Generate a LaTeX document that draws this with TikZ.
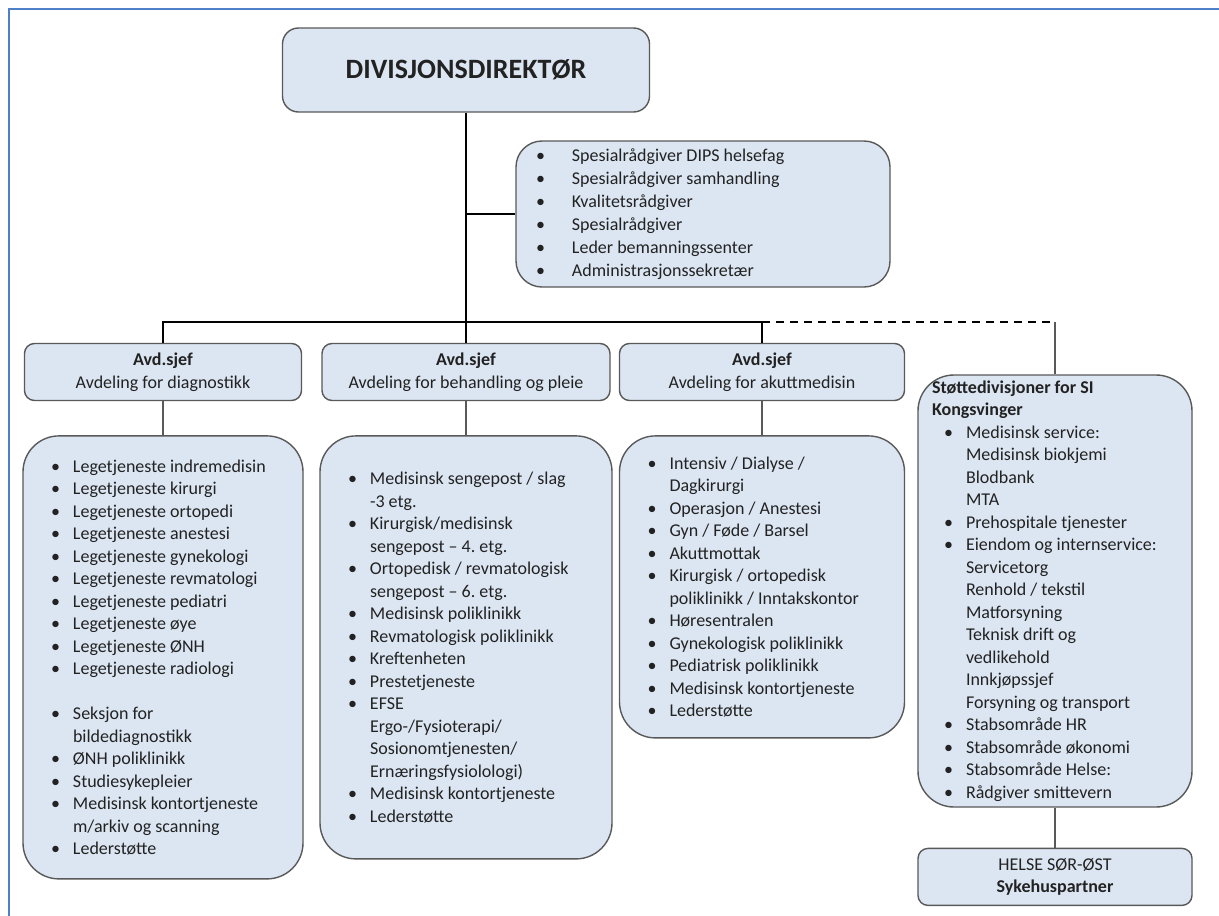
\documentclass[tikz,border=0pt]{standalone}
\usepackage{fontspec}
\setmainfont{Carlito}
\usepackage{xcolor}
\usetikzlibrary{positioning}
\definecolor{boxfill}{HTML}{DCE6F2}
\definecolor{boxline}{HTML}{595959}
\definecolor{frameblue}{HTML}{4F7FC8}
\definecolor{ink}{HTML}{222222}
\frenchspacing
\newcommand{\bul}{\makebox[22pt][l]{\textbullet}}
\newcommand{\cnt}{\hspace*{22pt}}
\newcommand{\sbul}{\makebox[36pt][l]{\textbullet}}
\newcommand{\tbul}{\hspace*{12pt}\makebox[22pt][l]{\textbullet}}
\newcommand{\tcnt}{\hspace*{34pt}}
\tikzset{
    unit/.style={
        rectangle, draw=boxline, fill=boxfill, line width=1.4pt,
        text=ink, font=\fontsize{18}{22.5}\selectfont
    },
    headbox/.style={
        unit, rounded corners=10pt, align=center,
        minimum width=277pt, minimum height=57pt, inner sep=2pt
    },
    listbox/.style={
        unit, rounded corners=36pt, align=flush left, inner xsep=28pt, inner ysep=4pt
    },
    trunk/.style={draw=black, line width=2pt},
    twig/.style={draw=boxline, line width=1.2pt}
}

\begin{document}
\begin{tikzpicture}[x=1pt, y=-1pt]
      \useasboundingbox (0,0) rectangle (1219,916);
      \fill[white] (0,0) rectangle (1219,916);
      \draw[frameblue, line width=2.5pt] (9,916) -- (9,9) -- (1219,9);

      \node[unit, rounded corners=16pt, minimum width=367pt, minimum height=84pt] (dir) at (466,70)
        {\fontsize{28}{30}\selectfont\bfseries DIVISJONSDIREKTØR};

      \node[unit, rounded corners=26pt, minimum width=374pt, minimum height=146pt,
            text width=334pt, inner xsep=20pt, align=flush left, font=\fontsize{18}{23}\selectfont] (stab) at (703,214)
        {\sbul Spesialrådgiver DIPS helsefag\\
         \sbul Spesialrådgiver samhandling\\
         \sbul Kvalitetsrådgiver\\
         \sbul Spesialrådgiver\\
         \sbul Leder bemanningssenter\\
         \sbul Administrasjonssekretær};

      \node[headbox] (avd1) at (163,372) {\textbf{Avd.sjef}\\Avdeling for diagnostikk};
      \node[headbox, minimum width=288pt] (avd2) at (466,372) {\textbf{Avd.sjef}\\Avdeling for behandling og pleie};
      \node[headbox, minimum width=285pt] (avd3) at (762,372) {\textbf{Avd.sjef}\\Avdeling for akuttmedisin};

      \node[listbox, below=34pt of avd1, minimum width=280pt, minimum height=443pt, text width=224pt] (diag)
        {\bul Legetjeneste indremedisin\\
         \bul Legetjeneste kirurgi\\
         \bul Legetjeneste ortopedi\\
         \bul Legetjeneste anestesi\\
         \bul Legetjeneste gynekologi\\
         \bul Legetjeneste revmatologi\\
         \bul Legetjeneste pediatri\\
         \bul Legetjeneste øye\\
         \bul Legetjeneste ØNH\\
         \bul Legetjeneste radiologi\\[22.5pt]
         \bul Seksjon for\\
         \cnt bildediagnostikk\\
         \bul ØNH poliklinikk\\
         \bul Studiesykepleier\\
         \bul Medisinsk kontortjeneste\\
         \cnt m/arkiv og scanning\\
         \bul Lederstøtte};

      \node[listbox, below=34pt of avd2, minimum width=292pt, minimum height=423pt, text width=236pt] (beh)
        {\bul Medisinsk sengepost / slag\\
         \cnt -3 etg.\\
         \bul Kirurgisk/medisinsk\\
         \cnt sengepost – 4. etg.\\
         \bul Ortopedisk / revmatologisk\\
         \cnt sengepost – 6. etg.\\
         \bul Medisinsk poliklinikk\\
         \bul Revmatologisk poliklinikk\\
         \bul Kreftenheten\\
         \bul Prestetjeneste\\
         \bul EFSE\\
         \cnt Ergo-/Fysioterapi/\\
         \cnt Sosionomtjenesten/\\
         \cnt Ernæringsfysiolologi)\\
         \bul Medisinsk kontortjeneste\\
         \bul Lederstøtte};

      \node[listbox, below=34pt of avd3, minimum width=285pt, minimum height=302pt, text width=229pt] (akutt)
        {\bul Intensiv / Dialyse /\\
         \cnt Dagkirurgi\\
         \bul Operasjon / Anestesi\\
         \bul Gyn / Føde / Barsel\\
         \bul Akuttmottak\\
         \bul Kirurgisk / ortopedisk\\
         \cnt poliklinikk / Inntakskontor\\
         \bul Høresentralen\\
         \bul Gynekologisk poliklinikk\\
         \bul Pediatrisk poliklinikk\\
         \bul Medisinsk kontortjeneste\\
         \bul Lederstøtte};

      \node[listbox, minimum width=274pt, minimum height=432pt, text width=246pt, inner xsep=14pt] (stotte) at (1055,591)
        {\textbf{Støttedivisjoner for SI}\\
         \textbf{Kongsvinger}\\
         \tbul Medisinsk service:\\
         \tcnt Medisinsk biokjemi\\
         \tcnt Blodbank\\
         \tcnt MTA\\
         \tbul Prehospitale tjenester\\
         \tbul Eiendom og internservice:\\
         \tcnt Servicetorg\\
         \tcnt Renhold / tekstil\\
         \tcnt Matforsyning\\
         \tcnt Teknisk drift og\\
         \tcnt vedlikehold\\
         \tcnt Innkjøpssjef\\
         \tcnt Forsyning og transport\\
         \tbul Stabsområde HR\\
         \tbul Stabsområde økonomi\\
         \tbul Stabsområde Helse:\\
         \tbul Rådgiver smittevern};

      \node[headbox, minimum width=274pt, below=40pt of stotte] (partner) {HELSE SØR-ØST\\\textbf{Sykehuspartner}};

      % linjer
      \coordinate (bus) at (0,322);
      \draw[trunk] (dir.south) -- (avd2.north);
      \draw[trunk] (dir.south |- stab.west) -- (stab.west);
      \draw[trunk] (avd1.north) -- (avd1.north |- bus) -- (avd3.north |- bus) -- (avd3.north);
      \draw[trunk, dashed, dash pattern=on 8pt off 6pt] (avd3.north |- bus) -- (stotte.north |- bus);
      \draw[twig] (stotte.north |- bus) -- (stotte.north);

      \draw[twig] (avd1.south) -- (diag.north);
      \draw[twig] (avd2.south) -- (beh.north);
      \draw[twig] (avd3.south) -- (akutt.north);
      \draw[twig] (stotte.south) -- (partner.north);
    \end{tikzpicture}
\end{document}
